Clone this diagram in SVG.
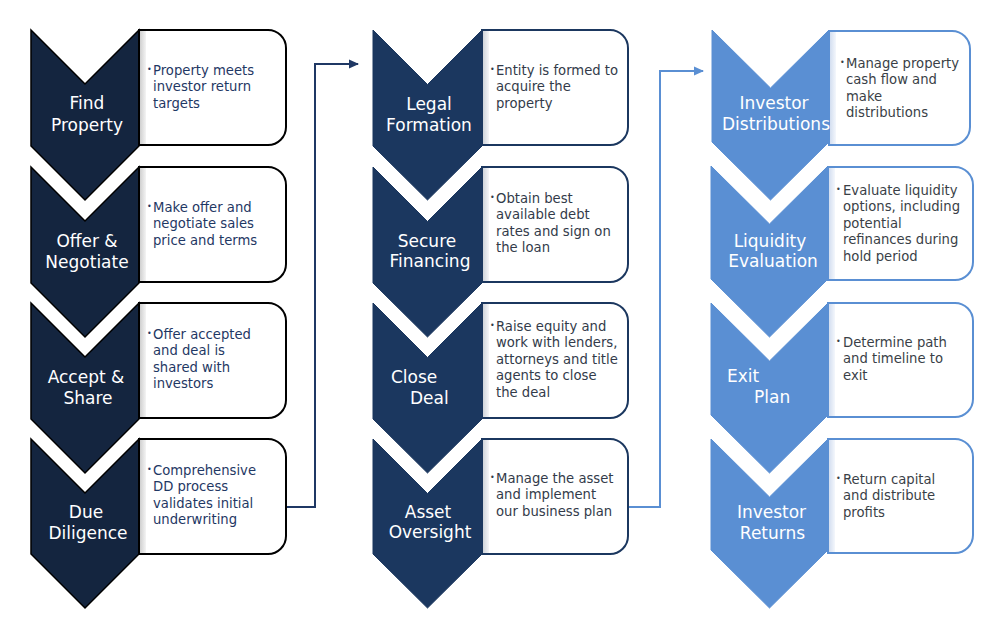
<svg xmlns="http://www.w3.org/2000/svg" width="1005" height="620" viewBox="0 0 1005 620">
<style>
.lbl{font-family:"DejaVu Sans",Verdana,sans-serif;font-size:17px;fill:#ffffff;text-anchor:middle}
.lbs{font-family:"DejaVu Sans",Verdana,sans-serif;font-size:17px;fill:#ffffff}
.txt{font-family:"DejaVu Sans",Verdana,sans-serif;font-size:13.2px}
.bul{font-family:"DejaVu Sans",Verdana,sans-serif;font-size:8px}
.c1 .chev{fill:#14253f;stroke:#000000;stroke-width:1.5}
.c1 .box{fill:#ffffff;stroke:#000000;stroke-width:2}
.c1 .txt,.c1 .bul{fill:#1f3864}
.c1 .strip{fill:url(#g1)}
.c2 .chev{fill:#1b375f;stroke:#1b375f;stroke-width:1}
.c2 .box{fill:#ffffff;stroke:#1b375f;stroke-width:2}
.c2 .txt,.c2 .bul{fill:#333b4a}
.c2 .strip{fill:url(#g2)}
.c3 .chev{fill:#5a8fd3;stroke:#5a8fd3;stroke-width:1}
.c3 .box{fill:#ffffff;stroke:#5a8fd3;stroke-width:2}
.c3 .txt,.c3 .bul{fill:#3a3f47}
.c3 .strip{fill:url(#g3)}
.con{fill:none;stroke-width:2}
</style>
<defs>
<linearGradient id="g1" x1="0" y1="0" x2="1" y2="0"><stop offset="0" stop-color="#cfcfcf"/><stop offset="1" stop-color="#f4f4f4"/></linearGradient>
<linearGradient id="g2" x1="0" y1="0" x2="1" y2="0"><stop offset="0" stop-color="#cfd3da"/><stop offset="1" stop-color="#f4f5f7"/></linearGradient>
<linearGradient id="g3" x1="0" y1="0" x2="1" y2="0"><stop offset="0" stop-color="#d3def0"/><stop offset="1" stop-color="#f4f7fc"/></linearGradient>
<marker id="a1" markerUnits="userSpaceOnUse" markerWidth="10" markerHeight="10" refX="9" refY="5" orient="auto"><path d="M0,0.5 L10,5 L0,9.5 Z" fill="#1f3864"/></marker>
<marker id="a2" markerUnits="userSpaceOnUse" markerWidth="10" markerHeight="10" refX="9" refY="5" orient="auto"><path d="M0,0.5 L10,5 L0,9.5 Z" fill="#5a8fd3"/></marker>
</defs>
<rect width="1005" height="620" fill="#ffffff"/>

<g id="connectors">
<path class="con" stroke="#1f3864" d="M286,507 H315 V64 H358" marker-end="url(#a1)"/>
<path class="con" stroke="#5a8fd3" d="M628,507 H660 V71 H703" marker-end="url(#a2)"/>
</g>

<!-- Column 1 -->
<g class="c1">
<g id="find-property">
<path class="chev" d="M31,30 L85,84 L139,30 L139,146 L85,200 L31,146 Z"/>
<path class="box" d="M139,30 H268 A18,18 0 0 1 286,48 V127 A18,18 0 0 1 268,145 H139 Z"/>
<rect class="strip" x="140" y="31" width="6" height="113"/>
<text class="lbl" x="87" y="109">Find</text><text class="lbl" x="87" y="131">Property</text>
<text class="bul" x="147" y="72">•</text>
<text class="txt"><tspan x="153" y="75">Property meets</tspan><tspan x="153" y="91.4">investor return</tspan><tspan x="153" y="107.8">targets</tspan></text>
</g>
<g id="offer-negotiate">
<path class="chev" d="M31,167 L85,221 L139,167 L139,283 L85,337 L31,283 Z"/>
<path class="box" d="M139,167 H268 A18,18 0 0 1 286,185 V264 A18,18 0 0 1 268,282 H139 Z"/>
<rect class="strip" x="140" y="168" width="6" height="113"/>
<text class="lbl" x="87" y="247">Offer &amp;</text><text class="lbl" x="87" y="268">Negotiate</text>
<text class="bul" x="147" y="209">•</text>
<text class="txt"><tspan x="153" y="212">Make offer and</tspan><tspan x="153" y="228.4">negotiate sales</tspan><tspan x="153" y="244.8">price and terms</tspan></text>
</g>
<g id="accept-share">
<path class="chev" d="M31,303 L85,357 L139,303 L139,419 L85,473 L31,419 Z"/>
<path class="box" d="M139,303 H268 A18,18 0 0 1 286,321 V400 A18,18 0 0 1 268,418 H139 Z"/>
<rect class="strip" x="140" y="304" width="6" height="113"/>
<text class="lbl" x="86" y="383">Accept &amp;</text><text class="lbl" x="88" y="404">Share</text>
<text class="bul" x="147" y="336">•</text>
<text class="txt"><tspan x="153" y="339">Offer accepted</tspan><tspan x="153" y="355.4">and deal is</tspan><tspan x="153" y="371.8">shared with</tspan><tspan x="153" y="388.2">investors</tspan></text>
</g>
<g id="due-diligence">
<path class="chev" d="M31,439 L85,493 L139,439 L139,554 L85,608 L31,554 Z"/>
<path class="box" d="M139,439 H268 A18,18 0 0 1 286,457 V536 A18,18 0 0 1 268,554 H139 Z"/>
<rect class="strip" x="140" y="440" width="6" height="113"/>
<text class="lbl" x="86" y="518">Due</text><text class="lbl" x="88" y="539">Diligence</text>
<text class="bul" x="147" y="472">•</text>
<text class="txt"><tspan x="153" y="475">Comprehensive</tspan><tspan x="153" y="491.4">DD process</tspan><tspan x="153" y="507.8">validates initial</tspan><tspan x="153" y="524.2">underwriting</tspan></text>
</g>
</g>

<!-- Column 2 -->
<g class="c2">
<g id="legal-formation">
<path class="chev" d="M373,30 L427.5,84.5 L482,30 L482,146 L427.5,200 L373,146 Z"/>
<path class="box" d="M482,30 H610 A18,18 0 0 1 628,48 V127 A18,18 0 0 1 610,145 H482 Z"/>
<rect class="strip" x="483" y="31" width="6" height="113"/>
<text class="lbl" x="429" y="110">Legal</text><text class="lbl" x="429" y="131">Formation</text>
<text class="bul" x="490" y="72">•</text>
<text class="txt"><tspan x="496" y="75">Entity is formed to</tspan><tspan x="496" y="91.4">acquire the</tspan><tspan x="496" y="107.8">property</tspan></text>
</g>
<g id="secure-financing">
<path class="chev" d="M373,167 L427.5,221.5 L482,167 L482,283 L427.5,337 L373,283 Z"/>
<path class="box" d="M482,167 H610 A18,18 0 0 1 628,185 V264 A18,18 0 0 1 610,282 H482 Z"/>
<rect class="strip" x="483" y="168" width="6" height="113"/>
<text class="lbl" x="427" y="247">Secure</text><text class="lbl" x="430" y="267">Financing</text>
<text class="bul" x="490" y="200">•</text>
<text class="txt"><tspan x="496" y="203">Obtain best</tspan><tspan x="496" y="219.4">available debt</tspan><tspan x="496" y="235.8">rates and sign on</tspan><tspan x="496" y="252.2">the loan</tspan></text>
</g>
<g id="close-deal">
<path class="chev" d="M373,303 L427.5,357.5 L482,303 L482,419 L427.5,473 L373,419 Z"/>
<path class="box" d="M482,303 H610 A18,18 0 0 1 628,321 V400 A18,18 0 0 1 610,418 H482 Z"/>
<rect class="strip" x="483" y="304" width="6" height="113"/>
<text class="lbs" x="391" y="383">Close</text><text class="lbs" x="410" y="404">Deal</text>
<text class="bul" x="490" y="328">•</text>
<text class="txt"><tspan x="496" y="331">Raise equity and</tspan><tspan x="496" y="347.4">work with lenders,</tspan><tspan x="496" y="363.8">attorneys and title</tspan><tspan x="496" y="380.2">agents to close</tspan><tspan x="496" y="396.6">the deal</tspan></text>
</g>
<g id="asset-oversight">
<path class="chev" d="M373,439 L427.5,493.5 L482,439 L482,554 L427.5,608 L373,554 Z"/>
<path class="box" d="M482,439 H610 A18,18 0 0 1 628,457 V536 A18,18 0 0 1 610,554 H482 Z"/>
<rect class="strip" x="483" y="440" width="6" height="113"/>
<text class="lbl" x="428" y="518">Asset</text><text class="lbl" x="430" y="538">Oversight</text>
<text class="bul" x="490" y="480">•</text>
<text class="txt"><tspan x="496" y="483">Manage the asset</tspan><tspan x="496" y="499.4">and implement</tspan><tspan x="496" y="515.8">our business plan</tspan></text>
</g>
</g>

<!-- Column 3 -->
<g class="c3">
<g id="investor-distributions">
<path class="chev" d="M712,30 L770.5,88 L829,30 L829,142 L770.5,200 L712,142 Z"/>
<path class="box" d="M829,31 H952 A18,18 0 0 1 970,49 V127 A18,18 0 0 1 952,145 H829 Z"/>
<rect class="strip" x="830" y="32" width="6" height="112"/>
<text class="lbl" x="774" y="109">Investor</text><text class="lbl" x="776" y="130">Distributions</text>
<text class="bul" x="840" y="65">•</text>
<text class="txt"><tspan x="846" y="68">Manage property</tspan><tspan x="846" y="84.4">cash flow and</tspan><tspan x="846" y="100.8">make</tspan><tspan x="846" y="117.2">distributions</tspan></text>
</g>
<g id="liquidity-evaluation">
<path class="chev" d="M711,166 L769.5,224 L828,166 L828,279 L769.5,337 L711,279 Z"/>
<path class="box" d="M828,167 H955 A18,18 0 0 1 973,185 V262 A18,18 0 0 1 955,280 H828 Z"/>
<rect class="strip" x="829" y="168" width="6" height="111"/>
<text class="lbl" x="770" y="247">Liquidity</text><text class="lbl" x="773" y="267">Evaluation</text>
<text class="bul" x="836" y="192">•</text>
<text class="txt"><tspan x="843" y="195">Evaluate liquidity</tspan><tspan x="843" y="211.4">options, including</tspan><tspan x="843" y="227.8">potential</tspan><tspan x="843" y="244.2">refinances during</tspan><tspan x="843" y="260.6">hold period</tspan></text>
</g>
<g id="exit-plan">
<path class="chev" d="M711,303 L769.5,361 L828,303 L828,415 L769.5,473 L711,415 Z"/>
<path class="box" d="M828,303 H955 A18,18 0 0 1 973,321 V399 A18,18 0 0 1 955,417 H828 Z"/>
<rect class="strip" x="829" y="304" width="6" height="112"/>
<text class="lbs" x="727" y="382">Exit</text><text class="lbs" x="754" y="403">Plan</text>
<text class="bul" x="836" y="344">•</text>
<text class="txt"><tspan x="843" y="347">Determine path</tspan><tspan x="843" y="363.4">and timeline to</tspan><tspan x="843" y="379.8">exit</tspan></text>
</g>
<g id="investor-returns">
<path class="chev" d="M711,439 L769.5,497 L828,439 L828,550 L769.5,608 L711,550 Z"/>
<path class="box" d="M828,439 H955 A18,18 0 0 1 973,457 V535 A18,18 0 0 1 955,553 H828 Z"/>
<rect class="strip" x="829" y="440" width="6" height="112"/>
<text class="lbl" x="771.5" y="518">Investor</text><text class="lbl" x="772.5" y="539">Returns</text>
<text class="bul" x="836" y="481">•</text>
<text class="txt"><tspan x="843" y="484">Return capital</tspan><tspan x="843" y="500.4">and distribute</tspan><tspan x="843" y="516.8">profits</tspan></text>
</g>
</g>
</svg>
